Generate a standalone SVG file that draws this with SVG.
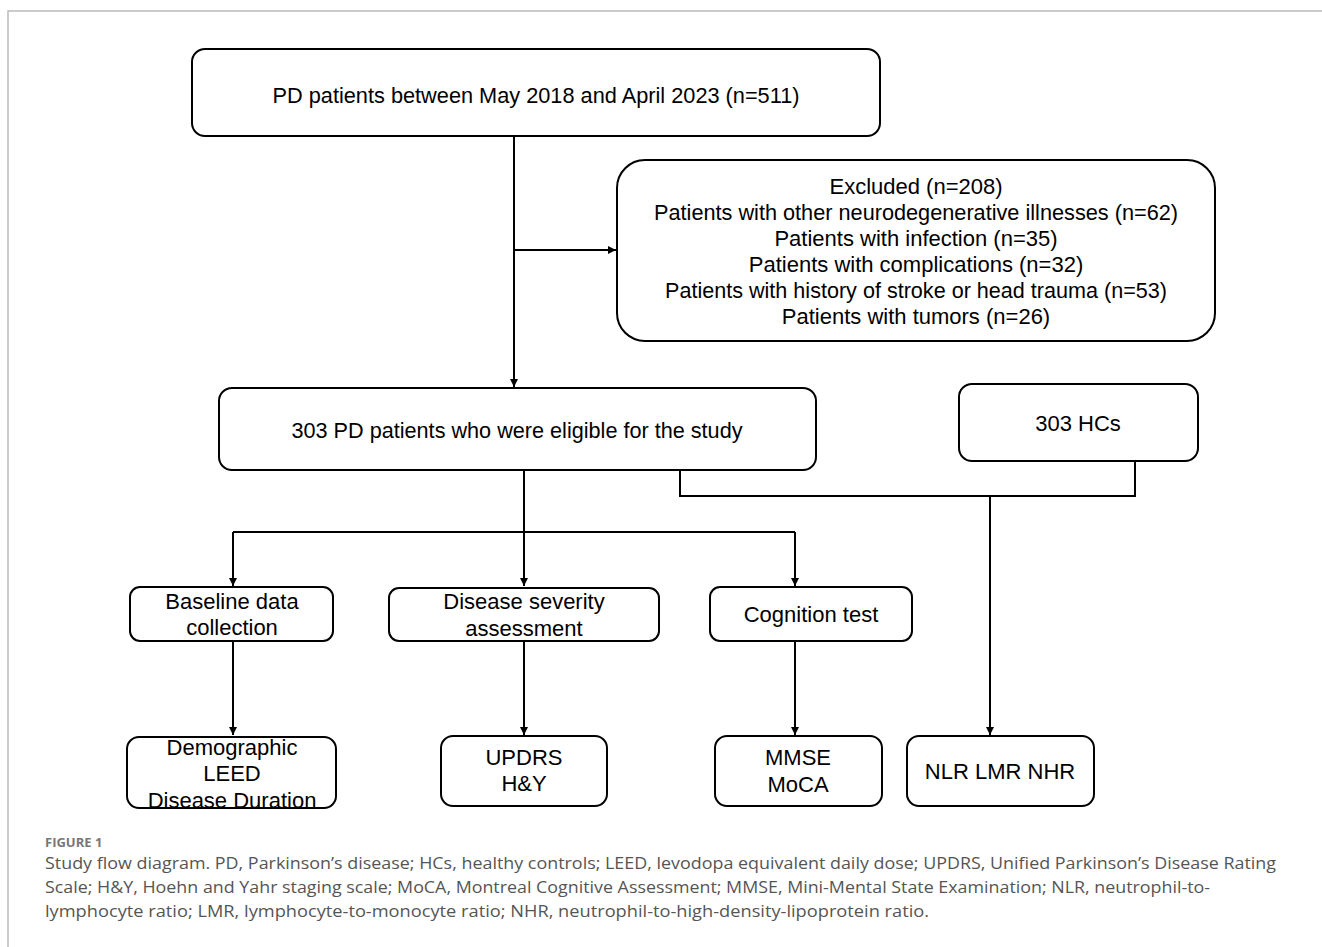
<svg xmlns="http://www.w3.org/2000/svg" width="1322" height="947" viewBox="0 0 1322 947">
<style>
.box{fill:#fff;stroke:#000;stroke-width:2}
.t{font-family:"Liberation Sans",Arial,sans-serif;font-size:22px;fill:#000;text-anchor:middle}
.c{fill:none;stroke:#000;stroke-width:2}
.cap{font-family:"Open Sans","Noto Sans",sans-serif;font-size:15.5px;fill:#555}
.fig{font-family:"Open Sans","Noto Sans",sans-serif;font-size:13px;font-weight:bold;fill:#777}
</style>
<defs>
<marker id="ah" viewBox="0 0 10 10" refX="10" refY="5" markerWidth="8" markerHeight="8" markerUnits="userSpaceOnUse" orient="auto">
<path d="M0,0 L10,5 L0,10 Z" fill="#000"/>
</marker>
</defs>
<rect width="1322" height="947" fill="#fff"/>
<path d="M8,947 V11 H1322" fill="none" stroke="#bbb" stroke-width="1.5"/>

<g id="connectors">
<path class="c" d="M514,136 V387" marker-end="url(#ah)"/>
<path class="c" d="M514,250 H616" marker-end="url(#ah)"/>
<path class="c" d="M524,470 V586" marker-end="url(#ah)"/>
<path class="c" d="M233,532 H795"/>
<path class="c" d="M233,532 V586" marker-end="url(#ah)"/>
<path class="c" d="M795,532 V586" marker-end="url(#ah)"/>
<path class="c" d="M680,470 V496 H1135 V461"/>
<path class="c" d="M990,496 V735" marker-end="url(#ah)"/>
<path class="c" d="M233,641 V735" marker-end="url(#ah)"/>
<path class="c" d="M524,641 V735" marker-end="url(#ah)"/>
<path class="c" d="M795,641 V735" marker-end="url(#ah)"/>
</g>

<g id="n-start">
<rect class="box" x="192" y="49" width="688" height="87" rx="13"/>
<text class="t" x="536" y="103" textLength="527" lengthAdjust="spacingAndGlyphs">PD patients between May 2018 and April 2023 (n=511)</text>
</g>
<g id="n-excluded">
<rect class="box" x="617" y="160" width="598" height="181" rx="28"/>
<text class="t" x="916" y="194">Excluded (n=208)</text>
<text class="t" x="916" y="220" textLength="524" lengthAdjust="spacingAndGlyphs">Patients with other neurodegenerative illnesses (n=62)</text>
<text class="t" x="916" y="246">Patients with infection (n=35)</text>
<text class="t" x="916" y="272">Patients with complications (n=32)</text>
<text class="t" x="916" y="298" textLength="502" lengthAdjust="spacingAndGlyphs">Patients with history of stroke or head trauma (n=53)</text>
<text class="t" x="916" y="324">Patients with tumors (n=26)</text>
</g>
<g id="n-eligible">
<rect class="box" x="219" y="388" width="597" height="82" rx="13"/>
<text class="t" x="517" y="438" textLength="451" lengthAdjust="spacingAndGlyphs">303 PD patients who were eligible for the study</text>
</g>
<g id="n-hcs">
<rect class="box" x="959" y="384" width="239" height="77" rx="13"/>
<text class="t" x="1078" y="431">303 HCs</text>
</g>
<g id="n-baseline">
<rect class="box" x="130" y="587" width="203" height="54" rx="10"/>
<text class="t" x="232" y="609">Baseline data</text>
<text class="t" x="232" y="635">collection</text>
</g>
<g id="n-severity">
<rect class="box" x="389" y="588" width="270" height="53" rx="10"/>
<text class="t" x="524" y="609">Disease severity</text>
<text class="t" x="524" y="636">assessment</text>
</g>
<g id="n-cognition">
<rect class="box" x="710" y="587" width="202" height="54" rx="10"/>
<text class="t" x="811" y="622">Cognition test</text>
</g>
<g id="n-demographic">
<rect class="box" x="127" y="737" width="209" height="71" rx="12"/>
<text class="t" x="232" y="755">Demographic</text>
<text class="t" x="232" y="781">LEED</text>
<text class="t" x="232" y="808">Disease Duration</text>
</g>
<g id="n-updrs">
<rect class="box" x="441" y="736" width="166" height="70" rx="12"/>
<text class="t" x="524" y="765">UPDRS</text>
<text class="t" x="524" y="791">H&amp;Y</text>
</g>
<g id="n-mmse">
<rect class="box" x="715" y="736" width="167" height="70" rx="12"/>
<text class="t" x="798" y="765">MMSE</text>
<text class="t" x="798" y="792">MoCA</text>
</g>
<g id="n-nlr">
<rect class="box" x="907" y="736" width="187" height="70" rx="12"/>
<text class="t" x="1000" y="779">NLR LMR NHR</text>
</g>

<g id="caption">
<text class="fig" x="45" y="847">FIGURE 1</text>
<text class="cap" x="45" y="869" textLength="1231" lengthAdjust="spacingAndGlyphs">Study flow diagram. PD, Parkinson’s disease; HCs, healthy controls; LEED, levodopa equivalent daily dose; UPDRS, Unified Parkinson’s Disease Rating</text>
<text class="cap" x="45" y="893" textLength="1165" lengthAdjust="spacingAndGlyphs">Scale; H&amp;Y, Hoehn and Yahr staging scale; MoCA, Montreal Cognitive Assessment; MMSE, Mini-Mental State Examination; NLR, neutrophil-to-</text>
<text class="cap" x="45" y="917" textLength="884" lengthAdjust="spacingAndGlyphs">lymphocyte ratio; LMR, lymphocyte-to-monocyte ratio; NHR, neutrophil-to-high-density-lipoprotein ratio.</text>
</g>
</svg>
